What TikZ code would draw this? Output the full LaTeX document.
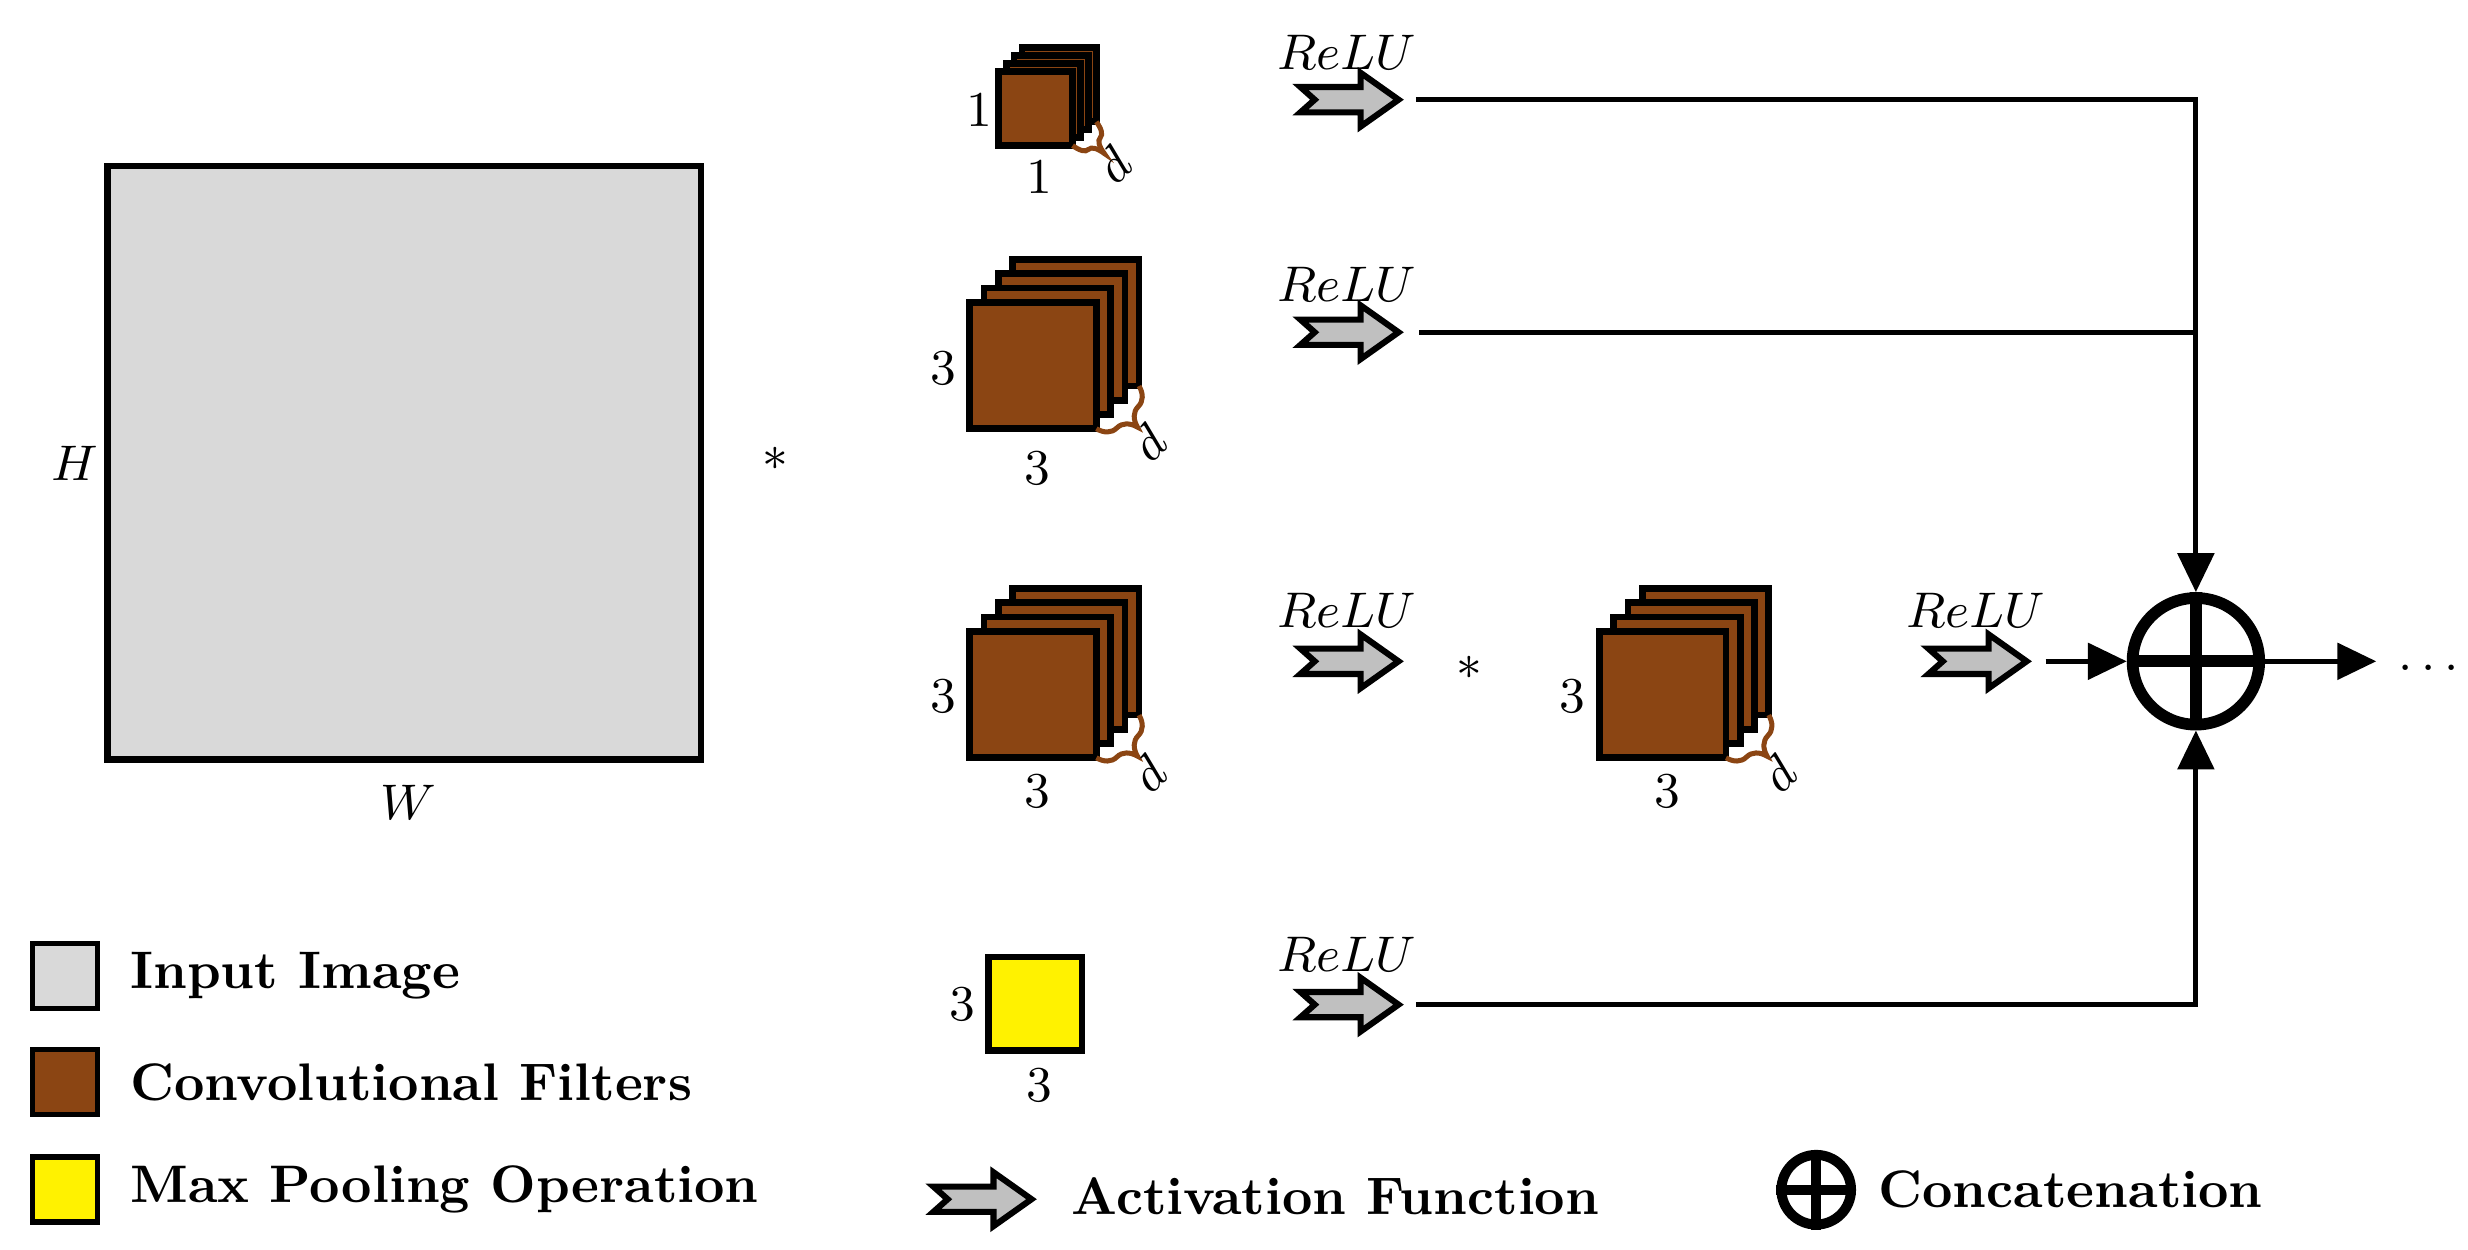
\documentclass[tikz,border=0pt]{standalone}
\usetikzlibrary{decorations.pathreplacing,arrows.meta,calc}
\definecolor{brn}{HTML}{8B4513}
\definecolor{img}{HTML}{D9D9D9}
\definecolor{actg}{HTML}{C0C0C0}
\newcommand\fstack[5]{% x y size off name
  \foreach \i in {3,2,1}{\draw[filt] ({#1+\i*#4},{#2-\i*#4}) rectangle +(#3,#3);}
  \draw[filt] (#1,#2) rectangle +(#3,#3);
  \coordinate (#5br) at ({#1+#3},{#2+#3});
  \coordinate (#5bk) at ({#1+#3+3*#4},{#2+#3-3*#4});
  \draw[brn,line width=0.9pt,decorate,decoration={brace,mirror,amplitude=5}] (#5br) -- (#5bk);
}
\tikzset{
  filt/.style={fill=brn,draw=black,line width=1.2pt},
  lab/.style={font=\fontsize{9.5}{11}\selectfont},
  leg/.style={font=\fontsize{9.5}{11}\selectfont\bfseries,anchor=west},
  conn/.style={line width=0.9pt},
  arr/.style={conn,-{Triangle[length=7pt,width=6.5pt]}},
  pics/act/.style={code={\draw[fill=actg,line width=1.1pt] (0,8)--(38,8)--(38,17)--(62,0)--(38,-17)--(38,-8)--(0,-8)--(9,0)--cycle;}}
}
\begin{document}
\begin{tikzpicture}[x=0.01cm,y=-0.01cm]
\useasboundingbox (0,0) rectangle (1560,790);
% input
\node[draw,fill=img,line width=1.2pt,minimum size=3.75cm,inner sep=0] (in) at (255.5,292.5) {};
\node[lab] (H) at (47,293) {$H$};
\node[lab] (W) at (258,507) {$W$};
\node[lab] (s1) at (490,290) {$*$};
% filters
\fstack{631}{45}{47}{5}{fa}
\node[lab] (fa1) at (619,70) {$1$};
\node[lab] (fa2) at (657,112) {$1$};
\node[lab,rotate=45] (fad) at (704,104) {$d$};
\fstack{613}{191}{80}{9}{fb}
\node[lab] (fb1) at (596,233) {$3$};
\node[lab] (fb2) at (656,296) {$3$};
\node[lab,rotate=45] (fbd) at (726,280) {$d$};
\fstack{613}{399}{80}{9}{fc}
\node[lab] (fc1) at (596,440) {$3$};
\node[lab] (fc2) at (656,500) {$3$};
\node[lab,rotate=45] (fcd) at (726,489) {$d$};
\fstack{1011}{399}{80}{9}{fd}
\node[lab] (fd1) at (994,440) {$3$};
\node[lab] (fd2) at (1054,500) {$3$};
\node[lab,rotate=45] (fdd) at (1124,489) {$d$};
\node[lab] (s2) at (929,422) {$*$};
% pooling
\node[draw,fill=yellow,line width=1.2pt,minimum size=0.59cm,inner sep=0] (mp) at (654.5,634.5) {};
\node[lab] (mp1) at (608,635) {$3$};
\node[lab] (mp2) at (657,686) {$3$};
% activations
\pic at (822,63) {act}; \node[lab] (r1) at (851,33) {$ReLU$};
\pic at (822,210) {act}; \node[lab] (r2) at (851,180) {$ReLU$};
\pic at (822,418) {act}; \node[lab] (r3) at (851,386) {$ReLU$};
\pic at (822,635) {act}; \node[lab] (r4) at (851,603) {$ReLU$};
\pic at (1219,418) {act}; \node[lab] (r5) at (1249,386) {$ReLU$};
\coordinate (a1) at (895,63);
\coordinate (a2) at (897,210);
\coordinate (a4) at (895,635);
\coordinate (a5) at (1293,418);
\coordinate (j2) at (1388,210);
% concat
\node[circle,draw,line width=2.1pt,minimum size=0.8cm,inner sep=0] (cat) at (1388,418) {};
\draw[line width=2.1pt] (cat.north)--(cat.south) (cat.west)--(cat.east);
\draw[arr] (a1) -| (cat.north);
\draw[conn] (a2) -- (j2);
\draw[arr] (a4) -| (cat.south);
\draw[arr] (a5) -- (cat.west);
\coordinate (out) at (1502,418);
\draw[arr] (cat.east) -- (out);
\node[lab] (dots) at (1535,422) {$\dots$};
% legend
\node[draw,fill=img,line width=1pt,minimum size=0.41cm,inner sep=0] (l1) at (41,617) {};
\node[leg] (t1) at (70,617) {Input Image};
\node[draw,fill=brn,line width=1pt,minimum size=0.41cm,inner sep=0] (l2) at (41,684) {};
\node[leg] (t2) at (70,684) {Convolutional Filters};
\node[draw,fill=yellow,line width=1pt,minimum size=0.41cm,inner sep=0] (l3) at (41,752) {};
\node[leg] (t3) at (70,752) {Max Pooling Operation};
\pic at (590,758) {act};
\node[leg] (t4) at (665,756) {Activation Function};
\node[circle,draw,line width=1.8pt,minimum size=0.44cm,inner sep=0] (lc) at (1148,752) {};
\draw[line width=1.8pt] (lc.north)--(lc.south) (lc.west)--(lc.east);
\node[leg] (t5) at (1175,752) {Concatenation};
\end{tikzpicture}
\end{document}
